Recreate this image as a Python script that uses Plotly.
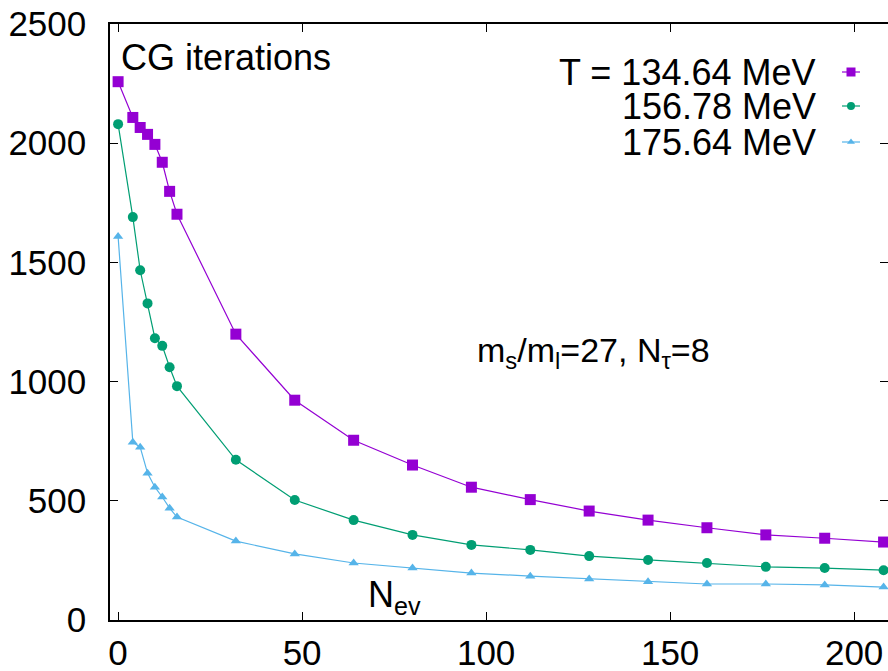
import plotly.graph_objects as go

nev = [0, 4, 6, 8, 10, 12, 14, 16, 32, 48, 64, 80, 96, 112, 128, 144, 160, 176, 192, 208]
cg_134 = [2258, 2108, 2066, 2037, 1995, 1920, 1798, 1702, 1199, 922, 754, 650, 557, 505, 457, 419, 387, 357, 343, 327]
cg_156 = [2080, 1690, 1467, 1328, 1182, 1150, 1060, 981, 672, 503, 419, 357, 315, 294, 268, 252, 239, 223, 218, 209]
cg_175 = [1609, 746, 725, 616, 557, 516, 469, 432, 331, 277, 239, 218, 197, 184, 172, 160, 151, 151, 147, 138]

series_names = ["T = 134.64 MeV", "156.78 MeV", "175.64 MeV"]
colors = ["#9400D3", "#009E73", "#56B4E9"]
symbols = ["square", "circle", "triangle-up"]
msizes = [11, 10, 9]

x_ticks = [0, 50, 100, 150, 200]
y_ticks = [0, 500, 1000, 1500, 2000, 2500]

FONT = "Liberation Sans, Arial, Helvetica, sans-serif"
FS_TICK = 35
FS_TEXT = 36

fig = go.Figure()
for ys, c, s, ms in zip([cg_134, cg_156, cg_175], colors, symbols, msizes):
    fig.add_trace(go.Scatter(x=nev, y=ys, mode="lines+markers",
                             line=dict(color=c, width=1.2),
                             marker=dict(color=c, symbol=s, size=ms, line=dict(width=0)),
                             showlegend=False, cliponaxis=False))

# legend samples on overlay axis in pixel-like coordinates
leg_y = [72, 106, 142]
for name, c, s, ms, ly in zip(series_names, colors, symbols, msizes, leg_y):
    fig.add_trace(go.Scatter(x=[842, 860], y=[ly, ly], mode="lines", xaxis="x2", yaxis="y2",
                             line=dict(color=c, width=1.2), showlegend=False, hoverinfo="skip"))
    fig.add_trace(go.Scatter(x=[851], y=[ly], mode="markers", xaxis="x2", yaxis="y2",
                             marker=dict(color=c, symbol=s, size=ms - 2, line=dict(width=0)),
                             showlegend=False, hoverinfo="skip"))
    fig.add_annotation(x=818, y=ly, xref="x2", yref="y2", text=name, showarrow=False,
                       xanchor="right", yanchor="middle", font=dict(family=FONT, size=FS_TEXT, color="black"))

fig.add_annotation(x=119, y=57, xref="x2", yref="y2", text="CG iterations", showarrow=False,
                   xanchor="left", yanchor="middle", font=dict(family=FONT, size=FS_TEXT, color="black"))
fig.add_annotation(x=475, y=352, xref="x2", yref="y2",
                   text="m<sub>s</sub>/m<sub>l</sub>=27, N<sub>τ</sub>=8", showarrow=False,
                   xanchor="left", yanchor="middle", font=dict(family=FONT, size=34, color="black"))
fig.add_annotation(x=366, y=597, xref="x2", yref="y2", text="N<sub>ev</sub>", showarrow=False,
                   xanchor="left", yanchor="middle", font=dict(family=FONT, size=FS_TEXT, color="black"))

axis_common = dict(showgrid=False, zeroline=False, showline=True, linecolor="black", linewidth=1.5,
                   ticks="inside", ticklen=8, tickwidth=1, tickcolor="black", automargin=False,
                   tickfont=dict(family=FONT, size=FS_TICK, color="black"))
fig.update_layout(
    width=888, height=671,
    margin=dict(l=110, r=0, t=24, b=51, autoexpand=False),
    paper_bgcolor="white", plot_bgcolor="white",
    xaxis=dict(range=[-2.2, 209.2], tickvals=x_ticks, ticklabelstandoff=1, mirror="ticks", **axis_common),
    yaxis=dict(range=[0, 2500], tickvals=y_ticks, ticklabelstandoff=15, mirror=False, **axis_common),
    yaxis3=dict(range=[0, 2500], tickvals=y_ticks, overlaying="y", side="right", showline=False,
                showgrid=False, zeroline=False, ticks="inside", ticklen=8, tickwidth=1, automargin=False,
                tickcolor="black", showticklabels=False, fixedrange=True),
    xaxis2=dict(range=[110, 888], overlaying="x", visible=False, fixedrange=True, automargin=False),
    yaxis2=dict(range=[620, 24], overlaying="y", visible=False, fixedrange=True, automargin=False),
)
# dummy invisible trace to activate the right-hand tick axis
fig.add_trace(go.Scatter(x=[None], y=[None], yaxis="y3", showlegend=False, hoverinfo="skip"))

fig.write_html("out.html", config={"displayModeBar": False},
               post_script="document.body.style.margin='0';document.body.style.overflow='hidden';")
